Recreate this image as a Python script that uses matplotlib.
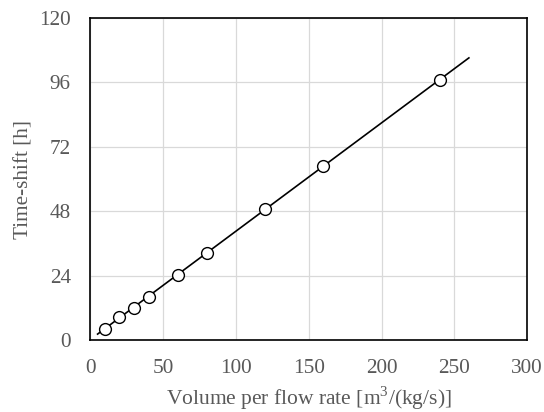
import numpy as np
import matplotlib
matplotlib.use('Agg')
import matplotlib.pyplot as plt

plt.rcParams['font.family'] = ['Liberation Serif', 'DejaVu Serif']
plt.rcParams['mathtext.fontset'] = 'custom'
plt.rcParams['mathtext.rm'] = 'Liberation Serif'

# data
volume_per_flow = [10, 20, 30, 40, 60, 80, 120, 160, 240]
time_shift = [4.1, 8.6, 12.0, 16.1, 24.3, 32.5, 48.8, 65.0, 96.9]
fit_range = [5, 260]

grey = '#595959'

fig = plt.figure(figsize=(5.44, 4.12), dpi=100)
ax = fig.add_axes([0.166, 0.175, 0.803, 0.781])

# linear trend line through the points
a, b = np.polyfit(volume_per_flow, time_shift, 1)
xf = np.array(fit_range)
ax.plot(xf, a * xf + b, color='black', lw=1.2, zorder=2)
ax.plot(volume_per_flow, time_shift, 'o', ms=8.5, mfc='white', mec='black',
        mew=1.0, zorder=3)

ax.set_xlim(0, 300)
ax.set_ylim(0, 120)
ax.set_xticks(range(0, 301, 50))
ax.set_yticks(range(0, 121, 24))
ax.grid(True, color='#d9d9d9', lw=0.9)
ax.set_axisbelow(True)
for s in ax.spines.values():
    s.set_color('black')
    s.set_linewidth(1.2)
ax.tick_params(length=0, labelsize=15.3, colors=grey, pad=14)

ax.set_xlabel('Volume per flow rate [m$^3$/(kg/s)]', fontsize=15.5, color=grey, labelpad=4)
ax.set_ylabel('Time-shift [h]', fontsize=15.2, color=grey, labelpad=4)

fig.savefig('out.png', dpi=100)
